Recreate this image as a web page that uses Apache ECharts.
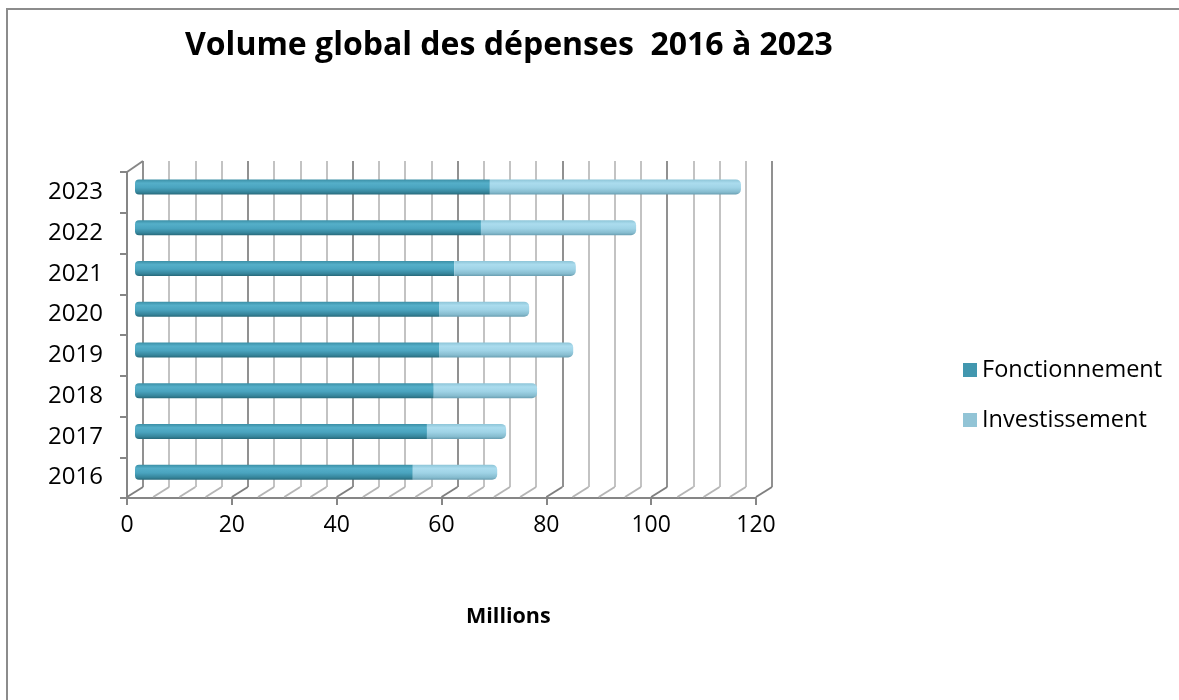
<!DOCTYPE html>
<html>
<head>
<meta charset="utf-8">
<script src="https://cdn.jsdelivr.net/npm/echarts@6/dist/echarts.min.js"></script>
<style>
html,body{margin:0;padding:0;background:#fff;}
#chart{width:1179px;height:700px;}
</style>
</head>
<body>
<div id="chart"></div>
<script>
// ---- data ----
const categories = ['2016', '2017', '2018', '2019', '2020', '2021', '2022', '2023'];
const fonctionnement = [53.0, 55.7, 57.0, 58.0, 58.0, 60.9, 66.0, 67.7];
const investissement = [16.1, 15.1, 19.7, 25.6, 17.2, 23.2, 29.6, 47.9];
const xTicks = [0, 20, 40, 60, 80, 100, 120];
const floorTicks = [0, 5, 10, 15, 20, 25, 30, 35, 40, 45, 50, 55, 60, 65, 70, 75, 80, 85, 90, 95, 100, 105, 110, 115, 120];
const titleText = 'Volume global des dépenses  2016 à 2023';
const axisTitle = 'Millions';

// ---- layout ----
const FONT = '"Open Sans", "Noto Sans", sans-serif';
const DX = 16, DY = -11;            // 3D depth offset (front -> back)
const FRONT = { left: 127, top: 172, width: 629, height: 326 };
const XMIN = xTicks[0], XMAX = xTicks[xTicks.length - 1];

const chart = echarts.init(document.getElementById('chart'), null, { renderer: 'canvas' });

function grad(stops) {
  return new echarts.graphic.LinearGradient(0, 0, 0, 1, stops.map((c) => ({ offset: c[0], color: c[1] })));
}
const fonctColor = grad([[0, '#3a8ea5'], [0.25, '#55afc9'], [0.55, '#4aa4bf'], [0.85, '#36859b'], [1, '#286a7b']]);
const investColor = grad([[0, '#8cc4d7'], [0.25, '#abdcee'], [0.55, '#9fd3e6'], [0.85, '#86bccf'], [1, '#6a9fb2']]);

const option = {
  backgroundColor: '#ffffff',
  animation: false,
  title: {
    text: titleText,
    left: 180, top: 25,
    textStyle: { fontFamily: FONT, fontWeight: 'bold', fontSize: 32, color: '#000' }
  },
  legend: {
    orient: 'vertical',
    left: 958, top: 353,
    itemWidth: 14, itemHeight: 14, itemGap: 26,
    textStyle: { fontFamily: FONT, fontSize: 23.5, color: '#000' },
    data: [
      { name: 'Fonctionnement', icon: 'rect', itemStyle: { color: '#4297af' } },
      { name: 'Investissement', icon: 'rect', itemStyle: { color: '#92c4d6' } }
    ]
  },
  grid: [
    { left: FRONT.left, top: FRONT.top, width: FRONT.width, height: FRONT.height },
    { left: FRONT.left + DX / 2, top: FRONT.top + DY / 2, width: FRONT.width, height: FRONT.height },
    { left: FRONT.left + DX, top: FRONT.top + DY, width: FRONT.width, height: FRONT.height }
  ],
  xAxis: [
    {
      gridIndex: 0, type: 'value', min: XMIN, max: XMAX, interval: 20,
      axisLine: { show: true, lineStyle: { color: '#868686', width: 2 } },
      axisTick: { show: true, length: 7, lineStyle: { color: '#868686', width: 2 } },
      axisLabel: { fontFamily: FONT, fontSize: 23, color: '#000', margin: 16 },
      splitLine: { show: false }
    },
    {
      gridIndex: 1, type: 'value', min: XMIN, max: XMAX,
      show: false, splitLine: { show: false }
    },
    {
      gridIndex: 2, type: 'value', min: XMIN, max: XMAX, interval: 5,
      axisLine: { show: false }, axisTick: { show: false }, axisLabel: { show: false },
      splitLine: { show: true, lineStyle: { color: ['#858585', '#bdbdbd', '#bdbdbd', '#bdbdbd'], width: 1.8 } }
    }
  ],
  yAxis: [
    {
      gridIndex: 0, type: 'category', data: categories,
      axisLine: { show: true, lineStyle: { color: '#868686', width: 2 } },
      axisTick: { show: true, length: 7, lineStyle: { color: '#868686', width: 2 } },
      axisLabel: { fontFamily: FONT, fontSize: 24, color: '#000', margin: 24, padding: [5, 0, 0, 0] },
      splitLine: { show: false }
    },
    { gridIndex: 1, type: 'category', data: categories, show: false },
    { gridIndex: 2, type: 'category', data: categories, show: false }
  ],
  graphic: [
    {
      type: 'rect', silent: true, z: -10,
      shape: { x: 7, y: 9, width: 1200, height: 720 },
      style: { fill: 'none', stroke: '#8c8c8c', lineWidth: 2 }
    },
    {
      type: 'text', left: 466, top: 606,
      style: { text: axisTitle, fontFamily: FONT, fontWeight: 'bold', fontSize: 21.5, fill: '#000' }
    }
  ],
  series: [
    {
      type: 'custom', xAxisIndex: 0, yAxisIndex: 0, silent: true, z: 1,
      data: floorTicks.map(v => [v, 0]),
      renderItem: function (params, api) {
        const v = api.value(0);
        const x = api.coord([v, 0])[0];
        const cs = params.coordSys;
        const bottom = cs.y + cs.height;
        const major = v % 20 === 0;
        const children = [{
          type: 'line',
          shape: { x1: x, y1: bottom - 1, x2: x + DX, y2: bottom + DY },
          style: { stroke: major ? '#7f7f7f' : '#b5b5b5', lineWidth: 2 }
        }];
        if (v === XMIN) {
          children.push({
            type: 'line',
            shape: { x1: x, y1: cs.y, x2: x + DX, y2: cs.y + DY },
            style: { stroke: '#868686', lineWidth: 2 }
          });
        }
        return { type: 'group', children: children };
      }
    },
    {
      name: 'Fonctionnement', type: 'bar', stack: 'total',
      xAxisIndex: 1, yAxisIndex: 1, barWidth: 15, z: 3,
      itemStyle: { color: fonctColor, borderRadius: [4, 0, 0, 4] },
      data: fonctionnement
    },
    {
      name: 'Investissement', type: 'bar', stack: 'total',
      xAxisIndex: 1, yAxisIndex: 1, barWidth: 15, z: 3,
      itemStyle: { color: investColor, borderRadius: [0, 5, 5, 0] },
      data: investissement
    }
  ]
};
chart.setOption(option);
</script>
</body>
</html>
